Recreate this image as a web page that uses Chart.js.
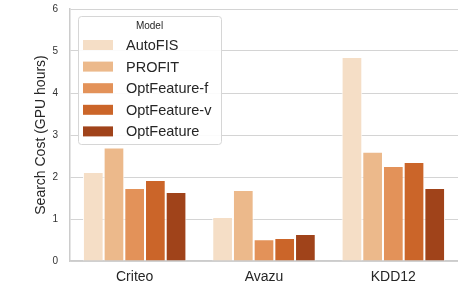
<!DOCTYPE html>
<html><head><meta charset="utf-8">
<script src="https://cdn.jsdelivr.net/npm/chart.js@4.4.0/dist/chart.umd.min.js"></script>
<style>html,body{margin:0;padding:0;background:#fff;}#wrap{width:458px;height:308px;position:relative;}</style>
</head><body><div id="wrap"><canvas id="c" width="458" height="308"></canvas></div>
<script>
const categories = ["Criteo", "Avazu", "KDD12"];
const models = ["AutoFIS", "PROFIT", "OptFeature-f", "OptFeature-v", "OptFeature"];
const autofis = [2.12, 1.05, 4.86];
const profit = [2.70, 1.69, 2.60];
const optf = [1.74, 0.52, 2.26];
const optv = [1.93, 0.55, 2.36];
const opt = [1.64, 0.64, 1.74];
const yTicks = [0, 1, 2, 3, 4, 5, 6];
const colors = ["#f5dec6", "#ecb98b", "#e39259", "#cb6529", "#a0431a"];
const seriesValues = [autofis, profit, optf, optv, opt];

const FONT = "'Liberation Sans', Arial, sans-serif";

const legendPlugin = {
  id: 'boxLegend',
  afterDatasetsDraw(chart) {
    const ctx = chart.ctx;
    ctx.save();
    const x = 78, y = 16, w = 143, h = 128;
    ctx.beginPath();
    ctx.roundRect(x + 0.5, y + 0.5, w, h, 3);
    ctx.fillStyle = 'rgba(255,255,255,0.9)';
    ctx.fill();
    ctx.strokeStyle = '#d6d6d6';
    ctx.lineWidth = 1;
    ctx.stroke();
    ctx.fillStyle = '#262626';
    ctx.font = "10px " + FONT;
    ctx.textAlign = 'center';
    ctx.textBaseline = 'middle';
    ctx.fillText('Model', x + w / 2, 26);
    ctx.font = "14.5px " + FONT;
    ctx.textAlign = 'left';
    chart.data.datasets.forEach((ds, i) => {
      const cy = 45 + i * 21.6;
      ctx.fillStyle = ds.backgroundColor;
      ctx.fillRect(83, cy - 5, 30, 10);
      ctx.fillStyle = '#262626';
      ctx.fillText(ds.label, 126, cy + 1);
    });
    ctx.restore();
  }
};

new Chart(document.getElementById('c'), {
  type: 'bar',
  data: {
    labels: categories,
    datasets: models.map((m, i) => ({
      label: m,
      data: seriesValues[i],
      backgroundColor: colors[i],
      borderColor: '#ffffff',
      borderWidth: 1,
      borderSkipped: 'bottom',
      categoryPercentage: 0.8,
      barPercentage: 1.0
    }))
  },
  options: {
    responsive: false,
    animation: false,
    devicePixelRatio: 1,
    layout: { padding: { left: 0, right: 0, top: 9, bottom: 0 } },
    plugins: { legend: { display: false }, tooltip: { enabled: false } },
    scales: {
      x: {
        grid: { display: false, drawTicks: false },
        border: { display: true, color: '#cccccc', width: 1.5 },
        ticks: { color: '#262626', font: { family: FONT, size: 14 }, padding: 8 },
        afterFit(s) { s.height = 47; s.paddingLeft = 0; s.paddingRight = 0; }
      },
      y: {
        min: 0, max: 6,
        afterBuildTicks(s) { s.ticks = yTicks.map(v => ({ value: v })); },
        grid: { color: '#d4d4d4', lineWidth: 1, drawTicks: false },
        border: { display: true, color: '#cccccc', width: 1.5 },
        ticks: { color: '#333333', font: { family: FONT, size: 10 }, padding: 12 },
        title: { display: true, text: 'Search Cost (GPU hours)', color: '#262626', font: { family: FONT, size: 14 }, padding: { top: 33, bottom: 0 } },
        afterFit(s) { s.width = 70; s.paddingTop = 0; s.paddingBottom = 0; }
      }
    }
  },
  plugins: [legendPlugin]
});
</script></body></html>
